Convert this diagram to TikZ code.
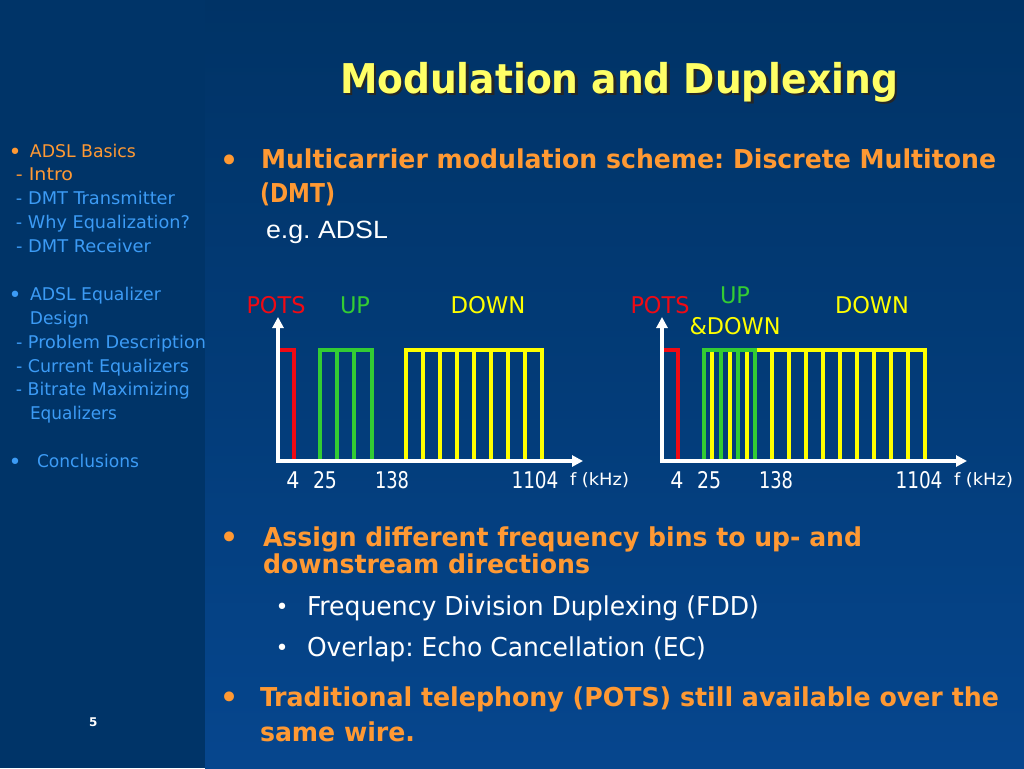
\documentclass[tikz,border=0pt]{standalone}
\usepackage{fontspec}
\usepackage{graphicx}
\setmainfont{DejaVu Sans}
\newfontfamily\cond{DejaVu Sans Condensed}
\newfontfamily\arialf{Liberation Sans}
\usetikzlibrary{arrows.meta}
\definecolor{bgtop}{RGB}{0,51,102}
\definecolor{bgbot}{RGB}{6,70,142}
\definecolor{sidebg}{RGB}{0,52,104}
\definecolor{ttl}{RGB}{255,255,102}
\definecolor{org}{RGB}{255,153,51}
\definecolor{lblue}{RGB}{60,155,245}
\definecolor{gyel}{RGB}{255,255,0}
\definecolor{ggrn}{RGB}{51,204,51}
\definecolor{gred}{RGB}{240,10,20}
\newcommand{\fitw}[2]{\resizebox{#1pt}{\height}{#2}}
\frenchspacing
\begin{document}
\begin{tikzpicture}[x=1pt,y=-1pt,
  txt/.style={anchor=base west, inner sep=0pt, outer sep=0pt},
  ctxt/.style={anchor=base, inner sep=0pt, outer sep=0pt},
  ttlfont/.style={font=\cond\bfseries\fontsize{41}{46}\selectfont},
  mainb/.style={txt, text=org, font=\cond\bfseries\fontsize{26}{30}\selectfont},
  subr/.style={txt, text=white, font=\cond\fontsize{26}{30}\selectfont},
  sidet/.style={txt, font=\cond\fontsize{17.5}{20}\selectfont},
  bul/.style={anchor=center, inner sep=0pt, text=org, font=\fontsize{34}{36}\selectfont},
  sbul/.style={anchor=center, inner sep=0pt, text=white, font=\fontsize{22}{24}\selectfont},
  sdbul/.style={anchor=center, inner sep=0pt, font=\fontsize{22}{24}\selectfont},
  glab/.style={ctxt, font=\cond\fontsize{23}{26}\selectfont},
  tick/.style={ctxt, text=white, font=\cond\fontsize{23}{26}\selectfont},
  unit/.style={txt, text=white, font=\cond\fontsize{17}{20}\selectfont},
  ax/.style={draw=white, line width=3.2pt, line join=miter, {Triangle[length=11pt,width=11pt]}-{Triangle[length=11pt,width=11pt]}},
  bar/.style={line width=3.8pt, line join=miter},
  rd/.style={bar, draw=gred},
  gr/.style={bar, draw=ggrn},
  yl/.style={bar, draw=gyel}]
\useasboundingbox (0,0) rectangle (1024,768);
% background
\shade[top color=bgtop, bottom color=bgbot, middle color=bgtop!55!bgbot] (205,0) rectangle (1024,768);
\fill[sidebg] (0,0) rectangle (205,768);

% title
\node[txt, ttlfont, text=black!85] (tshadow) at (342.5,95.5) {\fitw{558}{Modulation and Duplexing}};
\node[txt, ttlfont, text=ttl] (title) at (340,93) {\fitw{558}{Modulation and Duplexing}};

% sidebar
\node[sdbul, text=org] (sb1) at (15,154) {•};
\node[sidet, text=org] (s1) at (30,157) {\fitw{106}{ADSL Basics}};
\node[sidet, text=org] (s2) at (16,180) {\fitw{57}{- Intro}};
\node[sidet, text=lblue] (s3) at (16,204) {\fitw{159}{- DMT Transmitter}};
\node[sidet, text=lblue] (s4) at (16,228) {\fitw{174}{- Why Equalization?}};
\node[sidet, text=lblue] (s5) at (16,252) {\fitw{135}{- DMT Receiver}};
\node[sdbul, text=lblue] (sb2) at (15,297) {•};
\node[sidet, text=lblue] (s6) at (30,300) {\fitw{131}{ADSL Equalizer}};
\node[sidet, text=lblue] (s7) at (30,324) {\fitw{59}{Design}};
\node[sidet, text=lblue] (s8) at (16,348) {\fitw{190}{- Problem Description}};
\node[sidet, text=lblue] (s9) at (16,372) {\fitw{173}{- Current Equalizers}};
\node[sidet, text=lblue] (s10) at (16,395) {\fitw{174}{- Bitrate Maximizing}};
\node[sidet, text=lblue] (s11) at (30,419) {\fitw{87}{Equalizers}};
\node[sdbul, text=lblue] (sb3) at (15,464) {•};
\node[sidet, text=lblue] (s12) at (37,467) {\fitw{102}{Conclusions}};
\node[txt, text=white, font=\bfseries\fontsize{12}{14}\selectfont] (page) at (89,726) {5};

% main bullets
\node[bul] (b1) at (230,164) {•};
\node[mainb] (m1) at (261,168) {\fitw{735}{Multicarrier modulation scheme: Discrete Multitone}};
\node[mainb] (m2) at (260,202) {\fitw{75}{(DMT)}};
\node[txt, text=white, font=\arialf\fontsize{25}{28}\selectfont] (m3) at (266,238) {\fitw{122}{e.g. ADSL}};

\node[bul] (b2) at (230,541) {•};
\node[mainb] (m4) at (263,546) {\fitw{599}{Assign different frequency bins to up- and}};
\node[mainb] (m5) at (263,573) {\fitw{327}{downstream directions}};
\node[sbul] (b3) at (282,609) {•};
\node[subr] (m6) at (307,615) {\fitw{452}{Frequency Division Duplexing (FDD)}};
\node[sbul] (b4) at (282,650) {•};
\node[subr] (m7) at (307,656) {\fitw{399}{Overlap: Echo Cancellation (EC)}};
\node[bul] (b5) at (230,701) {•};
\node[mainb] (m8) at (260,706) {\fitw{739}{Traditional telephony (POTS) still available over the}};
\node[mainb] (m9) at (260,741) {\fitw{155}{same wire.}};

% ---------- graph 1 ----------
\draw[rd] (278,350) -| (294,461);
\draw[gr] (320,461) |- (372,350) -- (372,461);
\foreach \x in {337,354} \draw[gr] (\x,350) -- (\x,461);
\draw[yl] (406,461) |- (542,350) -- (542,461);
\foreach \x in {423,440,457,474,491,508,525} \draw[yl] (\x,350) -- (\x,461);
\draw[ax] (278,317) -- (278,461) -- (583,461);
\node[glab, text=gred] (p1) at (276,313) {\fitw{59}{POTS}};
\node[glab, text=ggrn] (u1) at (355,313) {\fitw{30}{UP}};
\node[glab, text=gyel] (d1) at (488,313) {\fitw{75}{DOWN}};
\node[tick] (t11) at (293,488) {4};
\node[tick] (t12) at (325,488) {\fitw{24}{25}};
\node[tick] (t13) at (392,488) {\fitw{34}{138}};
\node[tick] (t14) at (535,488) {\fitw{47}{1104}};
\node[unit] (f1) at (570,485) {\fitw{59}{f (kHz)}};

% ---------- graph 2 ----------
\draw[rd] (662,350) -| (678,461);
\draw[yl] (755,350) -- (925,350) -- (925,461);
\foreach \x in {712,730,747,772,789,806,823,840,857,874,891,908} \draw[yl] (\x,350) -- (\x,461);
\draw[gr] (704,461) |- (755,350) -- (755,461);
\foreach \x in {721,738} \draw[gr] (\x,350) -- (\x,461);
\draw[ax] (662,317) -- (662,461) -- (967,461);
\node[glab, text=gred] (p2) at (660,313) {\fitw{59}{POTS}};
\node[glab, text=ggrn] (u2) at (735,303) {\fitw{30}{UP}};
\node[glab, text=gyel] (ud2) at (735,334) {\fitw{91}{\&DOWN}};
\node[glab, text=gyel] (d2) at (872,313) {\fitw{74}{DOWN}};
\node[tick] (t21) at (677,488) {4};
\node[tick] (t22) at (709,488) {\fitw{24}{25}};
\node[tick] (t23) at (776,488) {\fitw{34}{138}};
\node[tick] (t24) at (919,488) {\fitw{47}{1104}};
\node[unit] (f2) at (954,485) {\fitw{59}{f (kHz)}};
\end{tikzpicture}
\end{document}
